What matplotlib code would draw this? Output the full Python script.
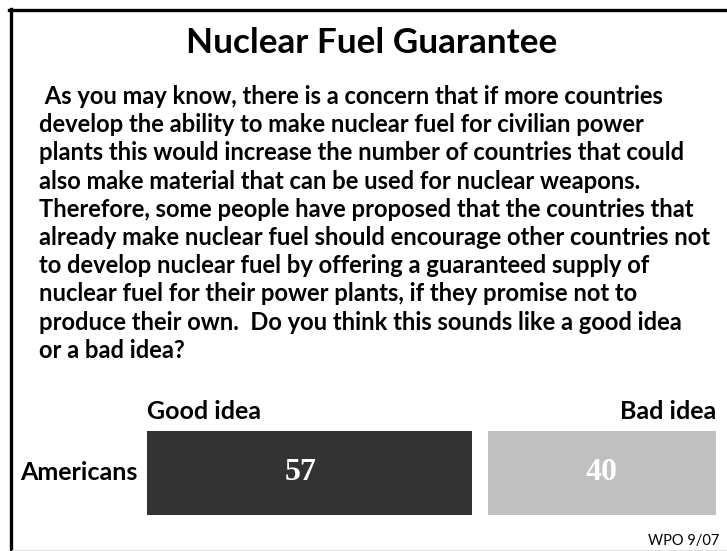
import matplotlib
matplotlib.use("Agg")
import matplotlib.pyplot as plt
from matplotlib.lines import Line2D

# Survey result (percent)
groups = ["Americans"]
good_idea = [57]
bad_idea = [40]
answer_labels = ["Good idea", "Bad idea"]

title = "Nuclear Fuel Guarantee"
question_lines = [
    " As you may know, there is a concern that if more countries",
    "develop the ability to make nuclear fuel for civilian power",
    "plants this would increase the number of countries that could",
    "also make material that can be used for nuclear weapons.",
    "Therefore, some people have proposed that the countries that",
    "already make nuclear fuel should encourage other countries not",
    "to develop nuclear fuel by offering a guaranteed supply of",
    "nuclear fuel for their power plants, if they promise not to",
    "produce their own.  Do you think this sounds like a good idea",
    "or a bad idea?",
]
source = "WPO 9/07"

W, H = 727, 551
DARK = "#333333"
LIGHT = "#c0c0c0"
SANS = ["Lato", "DejaVu Sans"]
SERIF = ["Liberation Serif", "DejaVu Serif"]


def fx(px):
    return px / W


def fy(py):
    return 1 - py / H


fig = plt.figure(figsize=(W / 100, H / 100), dpi=100)
fig.patch.set_facecolor("white")

# partial frame: left and top black rules, faint bottom rule
fig.add_artist(Line2D([fx(10.5), fx(10.5)], [fy(8.5), fy(H + 5)], color="black", lw=2.4))
fig.add_artist(Line2D([fx(9), fx(W + 5)], [fy(9.5), fy(9.5)], color="black", lw=2.4))
fig.add_artist(Line2D([fx(12), fx(W)], [fy(549.5), fy(549.5)], color="#e0e0e0", lw=0.8))

fig.text(fx(372), fy(53), title, ha="center", va="baseline",
         fontsize=25.3, fontweight="bold", family=SANS)

for i, line in enumerate(question_lines):
    fig.text(fx(39), fy(104 + i * 28.2), line, ha="left", va="baseline",
             fontsize=17.1, fontweight="bold", family=SANS)

# bars
gap = 2.8
ax = fig.add_axes([fx(147), fy(515), fx(716) - fx(147), fy(431) - fy(515)])
for i, g in enumerate(groups):
    ax.barh(i, good_idea[i], left=0, height=1, color=DARK)
    ax.barh(i, bad_idea[i], left=good_idea[i] + gap, height=1, color=LIGHT)
    ax.text(good_idea[i] / 2 - 1.5, i, str(good_idea[i]), ha="center", va="center",
            color="white", fontsize=23, fontweight="bold", family=SERIF)
    ax.text(good_idea[i] + gap + bad_idea[i] / 2, i, str(bad_idea[i]), ha="center",
            va="center", color="white", fontsize=23, fontweight="bold", family=SERIF)
    ax.text(-0.016, i, g, transform=ax.get_yaxis_transform(), ha="right", va="center",
            fontsize=18, fontweight="bold", family=SANS)
ax.set_xlim(0, good_idea[0] + gap + bad_idea[0])
ax.set_ylim(-0.5, 0.5)
ax.axis("off")

fig.text(fx(147), fy(419), answer_labels[0], ha="left", va="baseline",
         fontsize=18, fontweight="bold", family=SANS)
fig.text(fx(716), fy(419), answer_labels[1], ha="right", va="baseline",
         fontsize=18, fontweight="bold", family=SANS)

fig.text(fx(719), fy(545), source, ha="right", va="baseline",
         fontsize=10.5, family=SANS)

fig.savefig("out.png", dpi=100, facecolor="white")
